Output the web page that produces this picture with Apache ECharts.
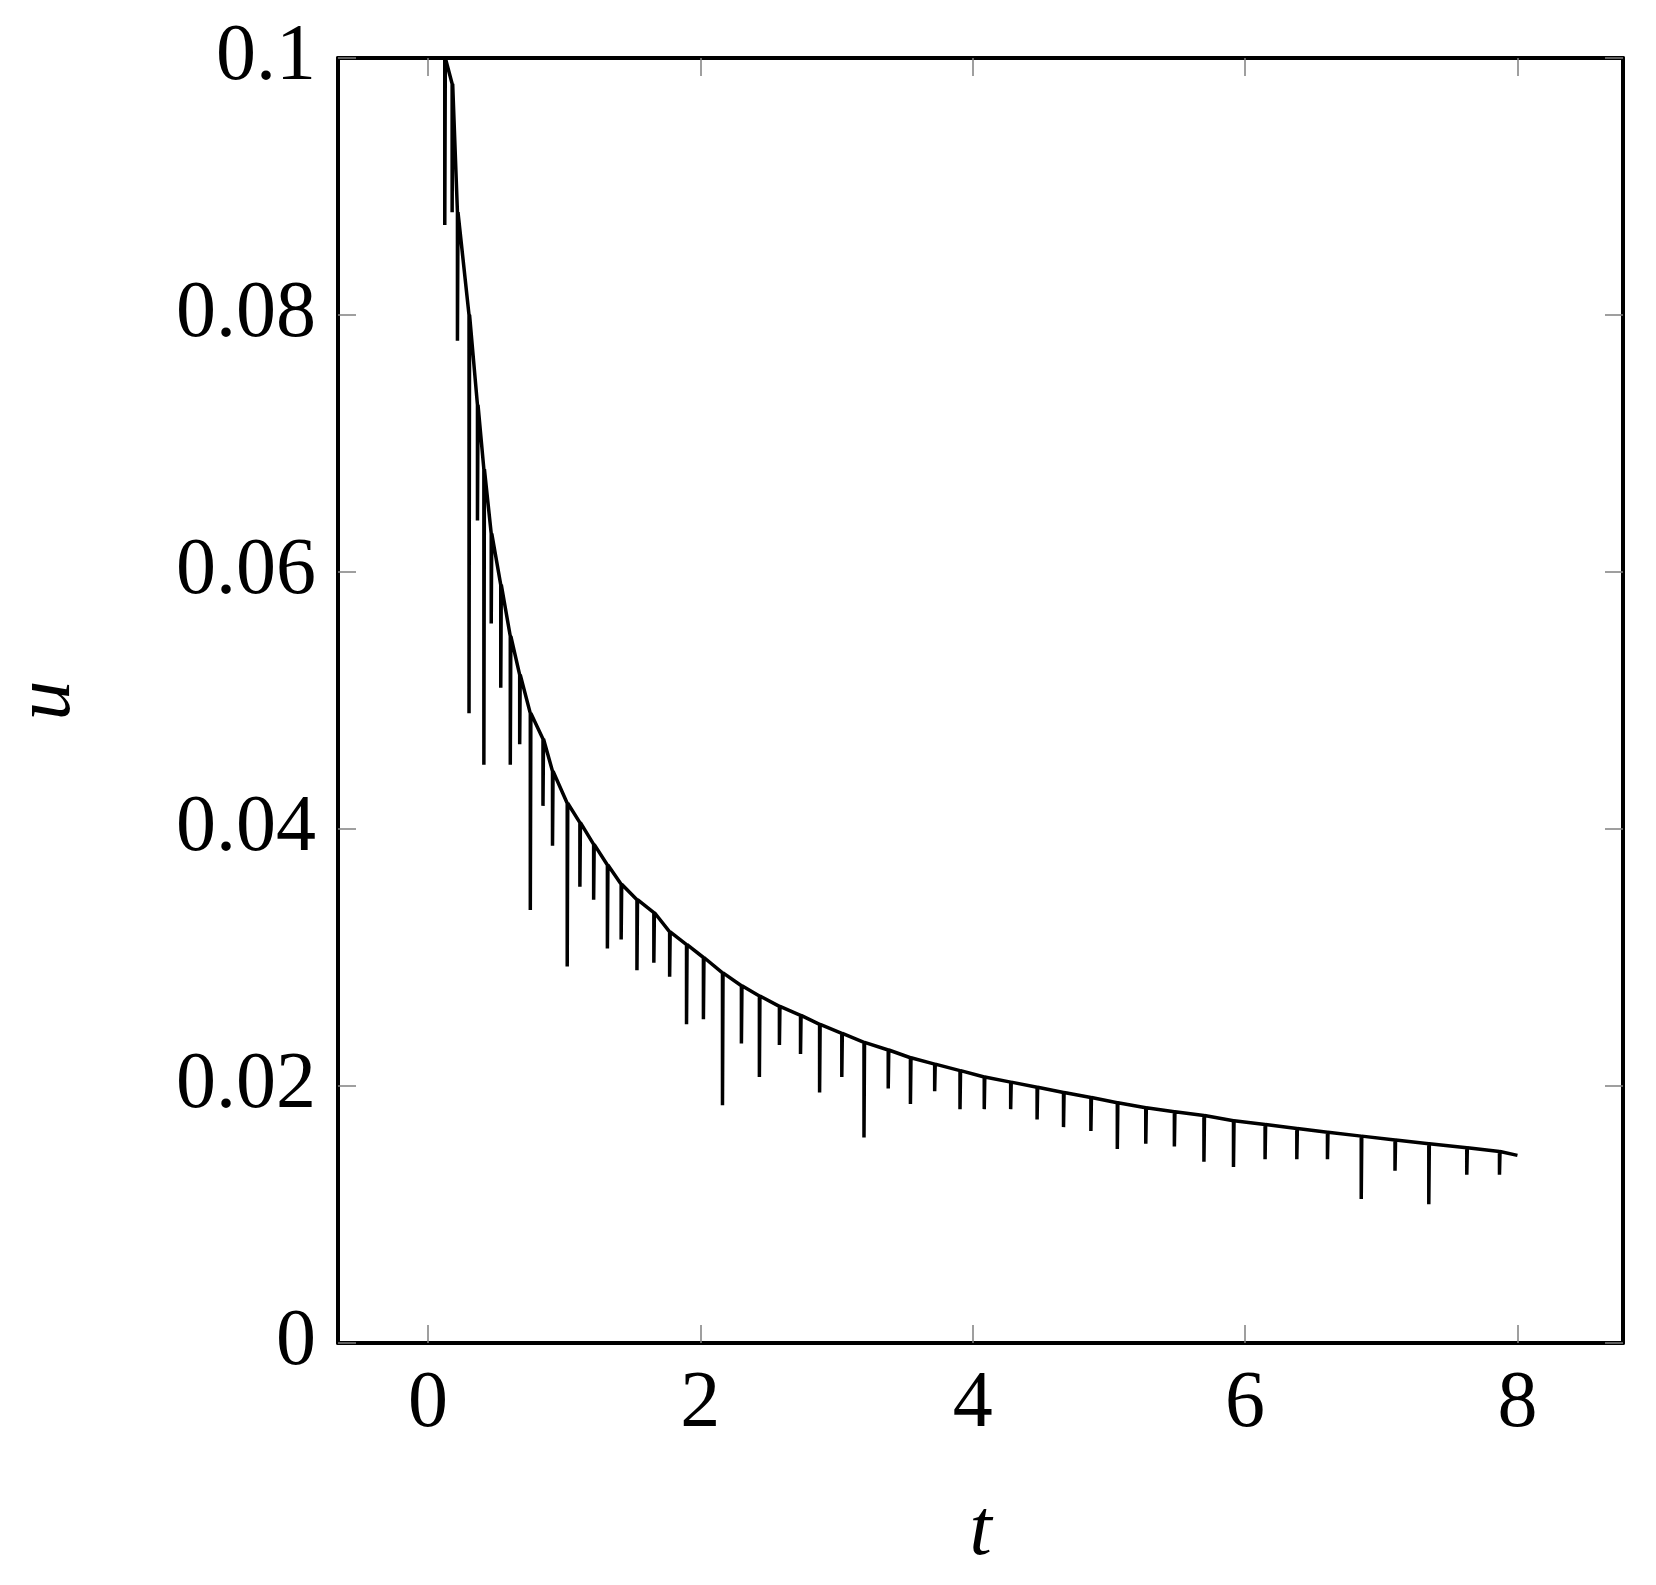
<!DOCTYPE html>
<html>
<head>
<meta charset="utf-8">
<script src="https://cdn.jsdelivr.net/npm/echarts@6/dist/echarts.min.js"></script>
</head>
<body style="margin:0">
<div id="main" style="width:1656px;height:1585px;"></div>
<script>
// dip positions, value just before the dip, and dip bottom
var dipT = [0.124,0.178,0.217,0.302,0.364,0.411,0.465,0.535,0.605,0.674,0.752,0.845,0.915,1.023,1.116,1.217,1.318,1.419,1.535,1.659,1.775,1.899,2.023,2.163,2.302,2.434,2.581,2.736,2.876,3.039,3.202,3.380,3.543,3.721,3.907,4.085,4.279,4.473,4.667,4.868,5.062,5.271,5.481,5.698,5.915,6.147,6.380,6.605,6.853,7.101,7.349,7.628,7.868];
var topU = [0.100,0.098,0.088,0.080,0.073,0.068,0.063,0.059,0.055,0.052,0.049,0.047,0.0445,0.042,0.0405,0.0388,0.0372,0.0357,0.0345,0.0335,0.032,0.031,0.030,0.0288,0.0278,0.0270,0.0262,0.0255,0.0248,0.0241,0.0234,0.0228,0.0222,0.0217,0.0212,0.0207,0.0203,0.0199,0.0195,0.0191,0.0187,0.0183,0.0180,0.0177,0.0173,0.0170,0.0167,0.0164,0.0161,0.0158,0.0155,0.0152,0.0149];
var lowU = [0.087,0.088,0.078,0.049,0.064,0.045,0.056,0.051,0.045,0.0466,0.0337,0.0418,0.0387,0.0293,0.0355,0.0345,0.0307,0.0314,0.029,0.0296,0.0285,0.0248,0.0252,0.0185,0.0233,0.0207,0.0232,0.0225,0.0195,0.0207,0.016,0.0198,0.0186,0.0196,0.0182,0.0182,0.0182,0.0174,0.0168,0.0165,0.0151,0.0155,0.0153,0.0141,0.0137,0.0143,0.0143,0.0143,0.0112,0.0134,0.0108,0.0131,0.0131];
var startPt = [0.11, 0.105];
var endPt = [8.0, 0.0146];
var xTicks = [0, 2, 4, 6, 8];

var pts = [startPt];
for (var i = 0; i < dipT.length; i++) {
    pts.push([dipT[i], topU[i]]);
    pts.push([dipT[i], lowU[i]]);
    pts.push([dipT[i] + 0.004, topU[i]]);
}
pts.push(endPt);

var font = '"Liberation Serif", "DejaVu Serif", serif';
var tick = {inside: true, length: 18, lineStyle: {color: '#808080', width: 1.5}};
var line = {onZero: false, lineStyle: {color: '#000', width: 4}};
var chart = echarts.init(document.getElementById('main'));
chart.setOption({
    animation: false,
    grid: {left: 338, top: 58, width: 1285, height: 1285, outerBoundsMode: 'none', containLabel: false},
    xAxis: [{
        type: 'value', min: -0.66, max: 8.775,
        axisLine: line,
        axisTick: Object.assign({customValues: xTicks}, tick),
        axisLabel: {customValues: xTicks, fontSize: 80, color: '#000', fontFamily: font, margin: 22},
        splitLine: {show: false},
        name: 't', nameLocation: 'middle', nameGap: 150,
        nameTextStyle: {fontSize: 80, fontStyle: 'italic', fontFamily: font, color: '#000'}
    }, {
        type: 'value', position: 'top', min: -0.66, max: 8.775,
        axisLine: line,
        axisTick: Object.assign({customValues: xTicks}, tick),
        axisLabel: {show: false}, splitLine: {show: false}
    }],
    yAxis: [{
        type: 'value', min: 0, max: 0.1, interval: 0.02,
        axisLine: Object.assign({show: true}, line),
        axisTick: tick,
        axisLabel: {fontSize: 80, color: '#000', fontFamily: font, margin: 22},
        splitLine: {show: false},
        name: 'u', nameLocation: 'middle', nameGap: 250,
        nameTextStyle: {fontSize: 80, fontStyle: 'italic', fontFamily: font, color: '#000'}
    }, {
        type: 'value', position: 'right', min: 0, max: 0.1, interval: 0.02,
        axisLine: Object.assign({show: true}, line),
        axisTick: tick, axisLabel: {show: false}, splitLine: {show: false}
    }],
    series: [{
        type: 'line', data: pts, symbol: 'none', clip: true,
        lineStyle: {color: '#000', width: 3.5}
    }]
});
</script>
</body>
</html>
